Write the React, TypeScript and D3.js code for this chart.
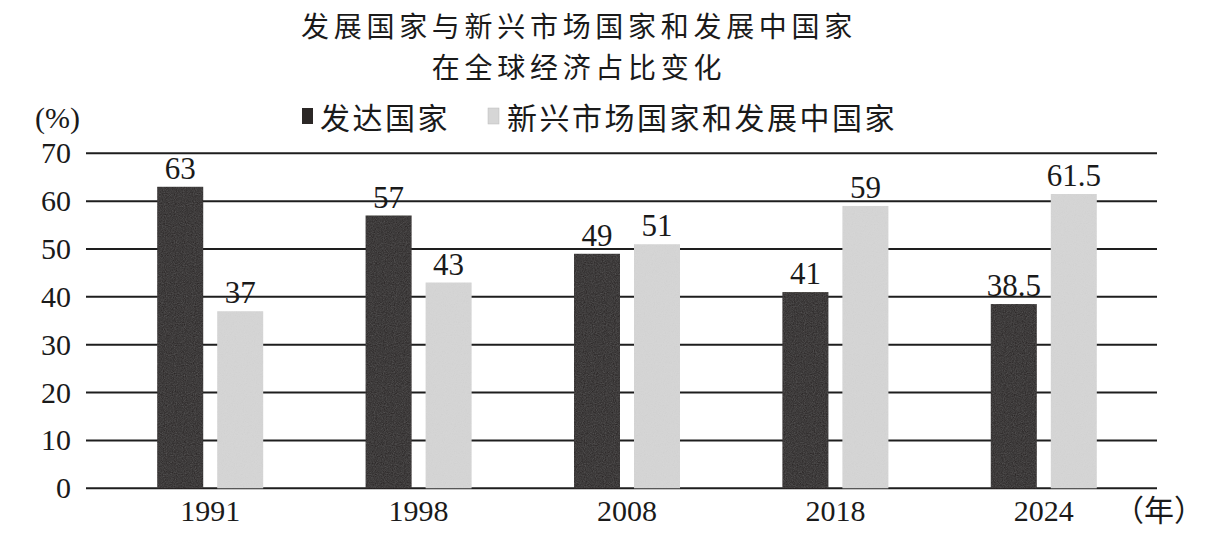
import React from "react";
import * as d3 from "d3";

const years = ["1991", "1998", "2008", "2018", "2024"];
const developed = [63, 57, 49, 41, 38.5];
const emerging = [37, 43, 51, 59, 61.5];
const seriesNames = ["发达国家", "新兴市场国家和发展中国家"];
const yTicks = [0, 10, 20, 30, 40, 50, 60, 70];
const titleLines = ["发展国家与新兴市场国家和发展中国家", "在全球经济占比变化"];

const W = 1215;
const H = 535;
const serif = "'Liberation Serif', 'Times New Roman', serif";
const cjk = "'Noto Sans CJK SC', 'Noto Sans', sans-serif";
const colors = ["#2b2726", "#d6d6d6"];

export default function App() {
  const x = d3.scaleBand<string>().domain(years).range([106, 1148]).paddingInner(0).paddingOuter(0);
  const y = d3.scaleLinear().domain([0, 70]).range([488.3, 153.3]);
  const barW = 46;
  const gap = 14;
  const series = [developed, emerging];

  return (
    <svg
      width={W}
      height={H}
      style={{ position: "absolute", left: 0, top: 0, background: "#fff" }}
    >
      <defs>
        <filter id="grain" x="0" y="0" width="100%" height="100%">
          <feTurbulence type="fractalNoise" baseFrequency="0.9" numOctaves="2" result="n" />
          <feColorMatrix type="saturate" values="0" in="n" result="g" />
          <feComponentTransfer in="g" result="g2">
            <feFuncA type="linear" slope="0.12" />
          </feComponentTransfer>
          <feComposite in="g2" in2="SourceGraphic" operator="in" result="c" />
          <feMerge>
            <feMergeNode in="SourceGraphic" />
            <feMergeNode in="c" />
          </feMerge>
        </filter>
      </defs>
      {/* Title */}
      {titleLines.map((t, i) => (
        <text
          key={t}
          x={579}
          y={37 + i * 41}
          textAnchor="middle"
          fontFamily={cjk}
          fontSize={28}
          letterSpacing={4.7}
          fill="#1a1a1a"
        >
          {t}
        </text>
      ))}
      {/* Unit label */}
      <text x={35} y={128} fontFamily={serif} fontSize={30} fill="#1a1a1a">
        (%)
      </text>
      {/* Legend */}
      <rect x={302} y={108} width={11} height={16} fill={colors[0]} />
      <text x={320} y={129} fontFamily={cjk} fontSize={30} letterSpacing={2.5} fill="#1a1a1a">
        {seriesNames[0]}
      </text>
      <rect x={488} y={108} width={11} height={16} fill={colors[1]} stroke="#bbb" strokeWidth={0.5} />
      <text x={507} y={129} fontFamily={cjk} fontSize={30} letterSpacing={2.5} fill="#1a1a1a">
        {seriesNames[1]}
      </text>
      {/* Gridlines and y ticks */}
      {yTicks.map((t) => (
        <g key={t}>
          <line x1={86} x2={1157} y1={y(t)} y2={y(t)} stroke="#1e1e1e" strokeWidth={2} />
          <text
            x={71}
            y={y(t) + 10}
            textAnchor="end"
            fontFamily={serif}
            fontSize={30}
            fill="#1a1a1a"
          >
            {t}
          </text>
        </g>
      ))}
      {/* Bars */}
      {years.map((yr, i) => {
        const cx = (x(yr) as number) + x.bandwidth() / 2;
        return (
          <g key={yr}>
            {series.map((s, j) => {
              const bx = j === 0 ? cx - gap / 2 - barW : cx + gap / 2;
              const v = s[i];
              return (
                <g key={j}>
                  <rect
                    x={bx}
                    y={y(v)}
                    width={barW}
                    height={y(0) - y(v)}
                    fill={colors[j]}
                    filter="url(#grain)"
                  />
                  <text
                    x={bx + barW / 2}
                    y={y(v) - 8}
                    textAnchor="middle"
                    fontFamily={serif}
                    fontSize={31}
                    fill="#1a1a1a"
                  >
                    {v}
                  </text>
                </g>
              );
            })}
            <text
              x={cx}
              y={521}
              textAnchor="middle"
              fontFamily={serif}
              fontSize={30}
              fill="#1a1a1a"
            >
              {yr}
            </text>
          </g>
        );
      })}
      <text x={1114} y={521} fontFamily={cjk} fontSize={30} fill="#1a1a1a">
        （年）
      </text>
    </svg>
  );
}
